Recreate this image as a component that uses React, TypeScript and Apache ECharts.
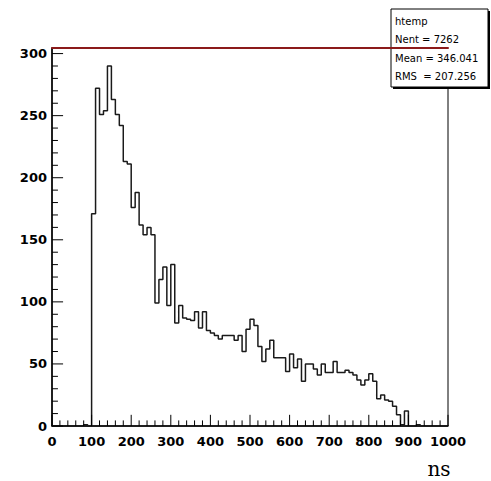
import React, { useEffect, useRef } from "react";
import * as echarts from "echarts";

// Histogram "htemp": 100 bins of width 10 ns from 0 to 1000
const BIN_LOW = 0;
const BIN_WIDTH = 10;
const counts = [
  0, 0, 0, 0, 0, 0, 0, 0, 1, 0, // 0-90
  171, 272, 251, 254, 290, 263, 251, 242, 213, 211, // 100-190
  176, 188, 162, 154, 160, 154, 99, 118, 128, 97, // 200-290
  130, 83, 97, 87, 86, 85, 92, 79, 92, 77, // 300-390
  75, 73, 70, 73, 73, 73, 69, 73, 60, 78, // 400-490
  86, 81, 64, 52, 62, 69, 55, 55, 55, 44, // 500-590
  58, 47, 54, 36, 50, 50, 46, 41, 50, 43, // 600-690
  43, 52, 43, 43, 45, 43, 41, 37, 33, 37, // 700-790
  42, 36, 22, 25, 21, 20, 16, 9, 1, 12, // 800-890
  0, 0, 1, 0, 0, 0, 0, 0, 0, 0, // 900-990
];

const X_MIN = 0;
const X_MAX = 1000;
const X_MAJOR = 100;
const xMajorTicks = [0, 100, 200, 300, 400, 500, 600, 700, 800, 900, 1000];
const xMinorTicks = [
  20, 40, 60, 80, 120, 140, 160, 180, 220, 240, 260, 280, 320, 340, 360, 380,
  420, 440, 460, 480, 520, 540, 560, 580, 620, 640, 660, 680, 720, 740, 760, 780,
  820, 840, 860, 880, 920, 940, 960, 980,
];
const Y_MAX = 304.5;
const Y_MAJOR = 50;
const yMajorTicks = [0, 50, 100, 150, 200, 250, 300];
const yMinorTicks = [
  10, 20, 30, 40, 60, 70, 80, 90, 110, 120, 130, 140, 160, 170, 180, 190,
  210, 220, 230, 240, 260, 270, 280, 290,
];
// tick lengths, in units of the other axis
const Y_TICK_MAJOR_LEN = 28; // ns
const Y_TICK_MINOR_LEN = 15; // ns
const X_TICK_MAJOR_LEN = 9; // counts
const X_TICK_MINOR_LEN = 4.5; // counts

const axisTitle = "ns";
const statLines = ["htemp", "Nent = 7262", "Mean = 346.041", "RMS  = 207.256"];

export default function App() {
  const ref = useRef<HTMLDivElement>(null);

  useEffect(() => {
    if (!ref.current) return;
    const chart = echarts.init(ref.current, undefined, { renderer: "svg" });

    const data: number[][] = counts.map((c, i) => [BIN_LOW + i * BIN_WIDTH, c]);
    data.push([BIN_LOW + counts.length * BIN_WIDTH, counts[counts.length - 1]]);

    // tick segments separated by empty points so the line breaks between them
    const yTickData: any[] = [];
    const pushY = (v: number, len: number) => {
      yTickData.push([X_MIN, v], [X_MIN + len, v], [X_MIN, "-"]);
    };
    yMajorTicks.forEach((v) => pushY(v, Y_TICK_MAJOR_LEN));
    yMinorTicks.forEach((v) => pushY(v, Y_TICK_MINOR_LEN));

    const xTickData: any[] = [];
    const pushX = (v: number, len: number) => {
      xTickData.push([v, 0], [v, len], [v, "-"]);
    };
    xMajorTicks.forEach((v) => pushX(v, X_TICK_MAJOR_LEN));
    xMinorTicks.forEach((v) => pushX(v, X_TICK_MINOR_LEN));

    const labelStyle = {
      color: "#000",
      fontFamily: "DejaVu Sans",
      fontWeight: "bold" as const,
      fontSize: 13,
      formatter: (v: number) => String(v),
    };

    const statTextY = [21, 39.5, 58, 76.5];

    const tickSeries = (name: string, d: any[]) => ({
      name,
      type: "line",
      xAxisIndex: 0,
      yAxisIndex: 0,
      data: d,
      symbol: "none",
      showSymbol: false,
      connectNulls: false,
      silent: true,
      clip: false,
      lineStyle: { color: "#000", width: 1 },
      z: 4,
    });

    chart.setOption({
      animation: false,
      backgroundColor: "#ffffff",
      tooltip: { show: false },
      grid: {
        left: 52,
        right: 43,
        top: 48,
        bottom: 55,
        show: true,
        borderColor: "#000",
        borderWidth: 1,
        backgroundColor: "transparent",
      },
      xAxis: [
        {
          type: "value",
          min: X_MIN,
          max: X_MAX,
          interval: X_MAJOR,
          position: "bottom",
          axisLine: { show: true, onZero: false, lineStyle: { color: "#000", width: 1.5 } },
          axisTick: { show: false },
          axisLabel: { ...labelStyle, margin: 9 },
          splitLine: { show: false },
          name: axisTitle,
          nameLocation: "end",
          nameGap: -9,
          nameTextStyle: {
            color: "#000",
            fontFamily: "DejaVu Serif",
            fontSize: 20,
            align: "center",
            verticalAlign: "top",
            padding: [33, 0, 0, 0],
          },
        },
        {
          type: "value",
          min: X_MIN,
          max: X_MAX,
          position: "top",
          axisLine: { show: true, onZero: false, lineStyle: { color: "#8b1a1a", width: 2 } },
          axisTick: { show: false },
          axisLabel: { show: false },
          splitLine: { show: false },
          z: 10,
        },
      ],
      yAxis: [
        {
          type: "value",
          min: 0,
          max: Y_MAX,
          interval: Y_MAJOR,
          position: "left",
          axisLine: { show: true, onZero: false, lineStyle: { color: "#000", width: 1.5 } },
          axisTick: { show: false },
          axisLabel: { ...labelStyle, margin: 5, showMaxLabel: false },
          splitLine: { show: false },
        },
      ],
      series: [
        {
          name: "htemp",
          type: "line",
          step: "end",
          xAxisIndex: 0,
          yAxisIndex: 0,
          data,
          symbol: "none",
          lineStyle: { color: "#1a1a1a", width: 1.5 },
          z: 3,
        },
        tickSeries("yTicks", yTickData),
        tickSeries("xTicks", xTickData),
      ],
      graphic: [
        {
          type: "group",
          z: 100,
          children: [
            {
              type: "rect",
              shape: { x: 393, y: 11, width: 97, height: 78 },
              style: { fill: "#000" },
            },
            {
              type: "rect",
              shape: { x: 391, y: 9, width: 97, height: 78 },
              style: { fill: "#fff", stroke: "#000", lineWidth: 1 },
            },
            ...statLines.map((t, i) => ({
              type: "text",
              x: 395,
              y: statTextY[i],
              style: {
                text: t,
                fill: "#000",
                fontFamily: "DejaVu Sans",
                fontSize: 10,
                textAlign: "left",
                textVerticalAlign: "middle",
              },
            })),
          ],
        },
      ],
    });

    return () => chart.dispose();
  }, []);

  return (
    <div
      ref={ref}
      style={{ position: "absolute", left: 0, top: 0, width: 491, height: 481 }}
    />
  );
}
